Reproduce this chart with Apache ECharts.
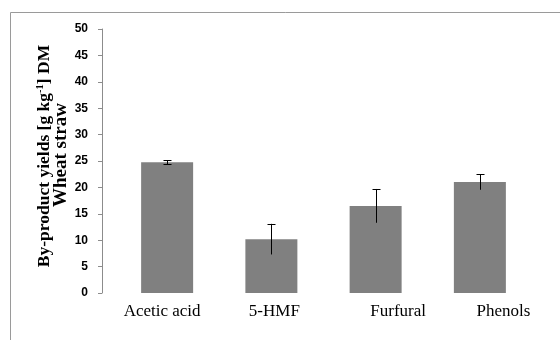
<!DOCTYPE html>
<html><head><meta charset="utf-8">
<script src="https://cdn.jsdelivr.net/npm/echarts@6/dist/echarts.min.js"></script>
<style>html,body{margin:0;padding:0;background:#fff}#c{width:560px;height:340px}</style>
</head><body><div id="c"></div>
<script>
var categories = ['Acetic acid', '5-HMF', 'Furfural', 'Phenols'];
var yields = [24.75, 10.2, 16.5, 21.0];
var errors = [0.35, 2.9, 3.2, 1.45];
var yTicks = [0, 5, 10, 15, 20, 25, 30, 35, 40, 45, 50];
var labelShift = ['s0', 's1', 's2', 's3'];

var serifLbl = {fontFamily: 'Liberation Serif', fontSize: 17, color: '#000'};
function lbl(pad) { return Object.assign({padding: pad}, serifLbl); }

var chart = echarts.init(document.getElementById('c'));
chart.setOption({
  animation: false,
  backgroundColor: '#fff',
  grid: {left: 115, right: 28, top: 29, bottom: 47, containLabel: false},
  graphic: [
    {type: 'rect', shape: {x: 10.5, y: 12.5, width: 600, height: 400}, style: {fill: 'none', stroke: '#9a9a9a', lineWidth: 1}, silent: true},
    {type: 'text', x: 44, y: 156, rotation: Math.PI / 2,
      style: {
        text: '{a|By-product yields [g kg}{s|-1}{a|] DM}',
        align: 'center', verticalAlign: 'middle',
        rich: {
          a: {fontFamily: 'Liberation Serif', fontWeight: 'bold', fontSize: 17.5, fill: '#000'},
          s: {fontFamily: 'Liberation Serif', fontWeight: 'bold', fontSize: 10.5, fill: '#000', verticalAlign: 'top', padding: [0, 0, 8, 0]}
        }
      }},
    {type: 'text', x: 61, y: 155, rotation: Math.PI / 2,
      style: {text: 'Wheat straw', align: 'center', verticalAlign: 'middle',
        fontFamily: 'Liberation Serif', fontWeight: 'bold', fontSize: 19, fill: '#000'}}
  ],
  xAxis: {
    type: 'category', data: categories,
    axisLine: {show: false}, axisTick: {show: false},
    axisLabel: {
      interval: 0, margin: 10, color: '#000',
      formatter: function (v, i) { return '{' + labelShift[i] + '|' + v + '}'; },
      rich: {
        s0: lbl([0, 10, 0, 0]),
        s1: lbl([0, 0, 0, 6]),
        s2: lbl([0, 0, 0, 45]),
        s3: lbl([0, 0, 0, 47])
      }
    }
  },
  yAxis: {
    type: 'value', min: yTicks[0], max: yTicks[yTicks.length - 1], interval: 5, offset: 13,
    axisLine: {show: true, lineStyle: {color: '#8c8c8c', width: 1}},
    axisTick: {show: true, length: 4, lineStyle: {color: '#8c8c8c'}},
    splitLine: {show: false},
    axisLabel: {margin: 14, color: '#000', fontFamily: 'Liberation Sans', fontWeight: 'bold', fontSize: 12}
  },
  series: [
    {type: 'bar', data: yields, barWidth: 52,
      itemStyle: {color: '#808080'}},
    {type: 'custom', data: yields.map(function (v, i) { return [i, v - errors[i], v + errors[i]]; }),
      z: 10,
      renderItem: function (params, api) {
        var lo = api.coord([api.value(0), api.value(1)]);
        var hi = api.coord([api.value(0), api.value(2)]);
        var x = Math.round(lo[0]) + 0.5, hw = 4;
        var st = {stroke: '#000', lineWidth: 1};
        return {type: 'group', children: [
          {type: 'line', shape: {x1: x, y1: lo[1], x2: x, y2: hi[1]}, style: st},
          {type: 'line', shape: {x1: x - hw, y1: Math.round(hi[1]) + 0.5, x2: x + hw, y2: Math.round(hi[1]) + 0.5}, style: st},
          {type: 'line', shape: {x1: x - hw, y1: Math.round(lo[1]) + 0.5, x2: x + hw, y2: Math.round(lo[1]) + 0.5}, style: {stroke: errors[params.dataIndex] < 1 ? '#000' : 'rgba(0,0,0,0)', lineWidth: 1}}
        ]};
      }
    }
  ]
});
</script></body></html>
